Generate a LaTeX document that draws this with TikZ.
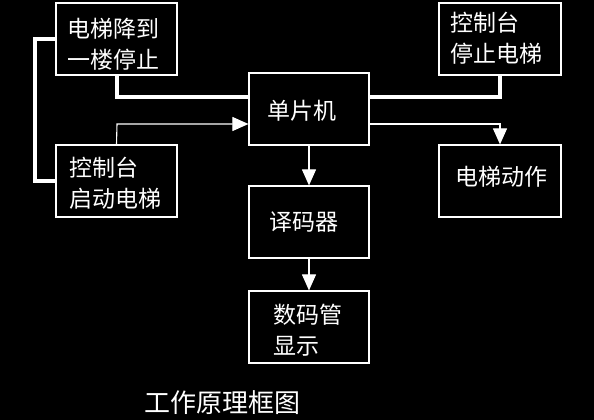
\documentclass[tikz,border=0pt]{standalone}
\usepackage{fontspec}
\newfontfamily\cjk{Noto Sans CJK SC}
\usetikzlibrary{arrows.meta}
\begin{document}
\begin{tikzpicture}[x=1pt,y=-1pt,
  box/.style={draw=white,line width=1.2pt,minimum height=72pt,inner sep=0pt,minimum width=#1},
  txt/.style={anchor=west,inner sep=0pt,text=white,align=left,
    font=\cjk\fontsize{23}{31}\selectfont},
  thin/.style={draw=white,line width=1.1pt},
  thick/.style={draw=white,line width=3.5pt},
  arr/.style={-{Triangle[width=14pt,length=16pt]}}]
\fill[black] (0,0) rectangle (594,420);
\useasboundingbox (0,0) rectangle (594,420);
% boxes
\node[box=121pt] (a) at (116.5,39) {};
\node[box=121pt] (b) at (116.5,181) {};
\node[box=120pt] (mcu) at (309,109) {};
\node[box=120pt] (dec) at (309,222) {};
\node[box=120pt] (disp) at (309,327) {};
\node[box=122pt] (tr) at (500,39) {};
\node[box=122pt] (act) at (500,181) {};
% texts
\node[txt] (ta) at (67,44) {电梯降到\\一楼停止};
\node[txt] (tb) at (69,183) {控制台\\启动电梯};
\node[txt] (tmcu) at (267,111) {单片机};
\node[txt] (tdec) at (269,222.5) {译码器};
\node[txt] (tdisp) at (273,330) {数码管\\显示};
\node[txt] (ttr) at (450,38.5) {控制台\\停止电梯};
\node[txt] (tact) at (455,177) {电梯动作};
\node[txt,font=\cjk\fontsize{26}{30}\selectfont] (title) at (144,403) {工作原理框图};
% thick lines
\coordinate (a1) at (117,97);
\coordinate (tr1) at (500,97);
\draw[thick] (a.south -| a1) -- (a1) -- (a1 -| mcu.west);
\draw[thick] (tr.south) -- (tr1) -- (tr1 -| mcu.east);
\coordinate (l1) at (35,39);
\coordinate (l2) at (35,181);
\draw[thick] (a.west) -- (l1) -- (l2) -- (b.west);
% thin arrows
\coordinate (b1) at (117,124);
\coordinate (r1) at (500,124);
\draw[thin,arr] (b.north) -- (b1) -- (b1 -| mcu.west);
\draw[thin,arr] (r1 -| mcu.east) -- (r1) -- (act.north);
\draw[thin,arr] (mcu.south) -- (dec.north);
\draw[thin,arr] (dec.south) -- (disp.north);
\end{tikzpicture}
\end{document}
